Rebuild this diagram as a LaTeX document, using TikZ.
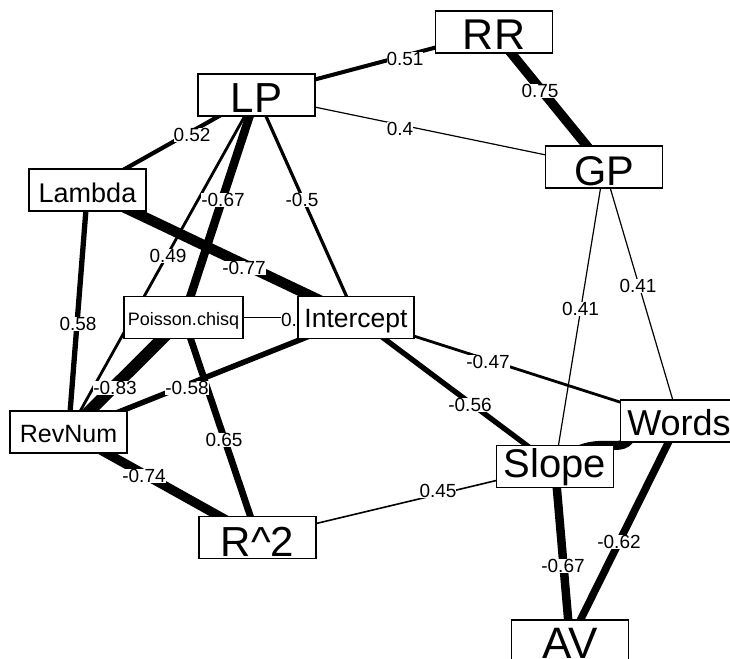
\documentclass[tikz,border=0pt]{standalone}
\usepackage{fontspec}
\setmainfont{Liberation Sans}
\pgfdeclarelayer{edgelayer}
\pgfdeclarelayer{labellayer}
\pgfsetlayers{edgelayer,labellayer,main}
\begin{document}
\begin{tikzpicture}[x=1pt,y=-1pt,
  box/.style={draw, line width=1.3pt, fill=white, minimum width=117pt,
    minimum height=42pt, inner sep=0pt, text depth=0pt},
  fs/.style={font=\fontsize{#1}{#1}\selectfont},
  elabel/.style={fill=white, inner sep=0pt, text height=13.6pt, text depth=0pt,
    font=\fontsize{19}{19}\selectfont},
  conn/.style={line width=#1pt, line cap=butt}]
\useasboundingbox (0,0) rectangle (730,658);
\clip (0,0) rectangle (730,658);

% nodes
\node[box, fs=43, text height=34.8pt] (rr) at (494,32) {RR};
\node[box, fs=42, text height=35pt] (lp) at (256.5,95) {LP};
\node[box, fs=41.5, text height=37.7pt] (gp) at (604,167) {GP};
\node[box, fs=27, text height=25.3pt] (lambda) at (87.5,190) {Lambda};
\node[box, minimum width=119pt, fs=18, text height=15.5pt] (poisson) at (183.5,317.5) {Poisson.chisq};
\node[box, minimum width=116pt, fs=26.5, text height=19pt] (intercept) at (356,317.5) {Intercept};
\node[box, fs=25, text height=21.9pt] (revnum) at (68.5,432) {RevNum};
\node[box, fs=42, text height=37pt] (r2) at (257.5,537.5) {R\textasciicircum 2};
\node[box, fs=40, text height=22.2pt] (slope) at (555,466.5) {Slope};
\node[box, fs=36, text height=28.8pt] (words) at (679,421) {Words};
\node[box, fs=44, text height=35pt] (av) at (570,641) {AV};
\coordinate (wordsin) at (635,421);

% edges
\begin{pgfonlayer}{edgelayer}
\draw[conn=4] (lp.center) -- (rr.center);
\draw[conn=9.5] (rr.center) -- (gp.center);
\draw[conn=1.2] (lp.center) -- (gp.center);
\draw[conn=4.2] (lp.center) -- (lambda.center);
\draw[conn=8.5] (lp.center) -- (poisson.center);
\draw[conn=3.2] (lp.center) -- (intercept.center);
\draw[conn=2.8] (lp.center) -- (revnum.center);
\draw[conn=10.5] (lambda.center) -- (intercept.center);
\draw[conn=5.3] (lambda.center) -- (revnum.center);
\draw[conn=1.2] (poisson.center) -- (intercept.center);
\draw[conn=12] (poisson.center) -- (revnum.center);
\draw[conn=6.8] (poisson.center) -- (r2.center);
\draw[conn=5.5] (intercept.center) -- (revnum.center);
\draw[conn=5.3] (intercept.center) -- (slope.center);
\draw[conn=2.8] (intercept.center) -- (words.center);
\draw[conn=1.2] (gp.center) -- (slope.center);
\draw[conn=1.2] (gp.center) -- (words.center);
\draw[conn=9] (slope.center) .. controls (600,422) and (630,470) .. (wordsin);
\draw[conn=9.3] (revnum.center) -- (r2.center);
\draw[conn=1.6] (r2.center) -- (slope.center);
\draw[conn=8.5] (slope.center) -- (av.center);
\draw[conn=7.5] (words.center) -- (av.center);
\end{pgfonlayer}

% edge labels
\begin{pgfonlayer}{labellayer}
\node[elabel] (l-lp-rr) at (405,59) {0.51};
\node[elabel] (l-rr-gp) at (540,91) {0.75};
\node[elabel] (l-lp-gp) at (400,128.5) {0.4};
\node[elabel] (l-lp-lambda) at (192,135) {0.52};
\node[elabel] (l-lp-poisson) at (223,200) {-0.67};
\node[elabel] (l-lp-intercept) at (302,200) {-0.5};
\node[elabel] (l-lp-revnum) at (168,256) {0.49};
\node[elabel] (l-lambda-intercept) at (244,268) {-0.77};
\node[elabel] (l-lambda-revnum) at (78,324) {0.58};
\node[elabel] (l-poisson-intercept) at (289,320) {0.};
\node[elabel] (l-poisson-revnum) at (115,388) {-0.83};
\node[elabel] (l-poisson-r2) at (224,440) {0.65};
\node[elabel] (l-intercept-revnum) at (187,388) {-0.58};
\node[elabel] (l-intercept-slope) at (470,405) {-0.56};
\node[elabel] (l-intercept-words) at (488,362) {-0.47};
\node[elabel] (l-gp-slope) at (580.5,309) {0.41};
\node[elabel] (l-gp-words) at (638,286) {0.41};
\node[elabel] (l-revnum-r2) at (144,476) {-0.74};
\node[elabel] (l-r2-slope) at (438,491) {0.45};
\node[elabel] (l-slope-av) at (563,566) {-0.67};
\node[elabel] (l-words-av) at (619,542) {-0.62};
\end{pgfonlayer}
\end{tikzpicture}
\end{document}
